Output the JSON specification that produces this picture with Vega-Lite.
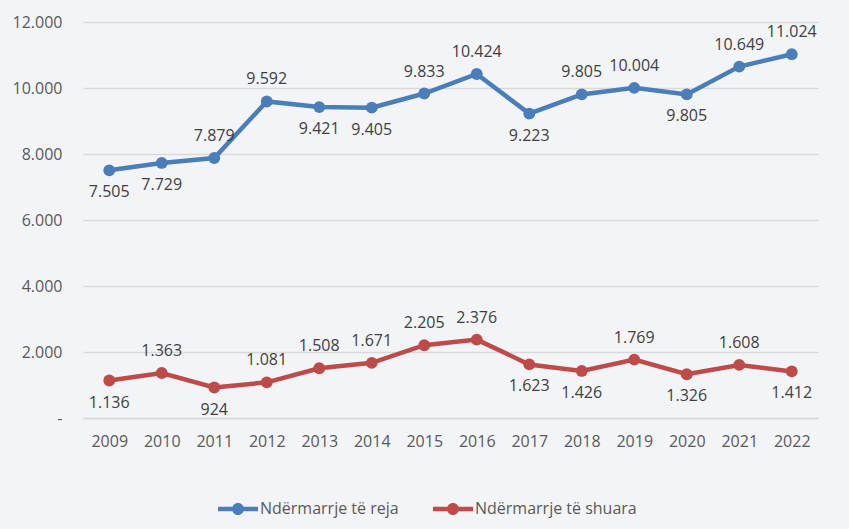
{
  "$schema": "https://vega.github.io/schema/vega-lite/v6.json",
  "width": 735,
  "height": 396,
  "autosize": {"type": "none"},
  "padding": {"left": 83, "top": 22, "right": 31, "bottom": 111},
  "background": "#f3f4f7",
  "config": {
    "locale": {"number": {"decimal": ",", "thousands": ".", "grouping": [3], "currency": ["", "€"]}},
    "view": {"stroke": null},
    "font": "Open Sans",
    "axis": {"labelFont": "Open Sans", "labelFontSize": 16, "labelColor": "#595959", "ticks": false, "domain": false, "gridColor": "#d9d9d9", "gridWidth": 1.3, "title": null}
  },
  "data": {
    "values": [
      {"year": "2009", "series": "Ndërmarrje të reja", "value": 7505},
      {"year": "2010", "series": "Ndërmarrje të reja", "value": 7729},
      {"year": "2011", "series": "Ndërmarrje të reja", "value": 7879},
      {"year": "2012", "series": "Ndërmarrje të reja", "value": 9592},
      {"year": "2013", "series": "Ndërmarrje të reja", "value": 9421},
      {"year": "2014", "series": "Ndërmarrje të reja", "value": 9405},
      {"year": "2015", "series": "Ndërmarrje të reja", "value": 9833},
      {"year": "2016", "series": "Ndërmarrje të reja", "value": 10424},
      {"year": "2017", "series": "Ndërmarrje të reja", "value": 9223},
      {"year": "2018", "series": "Ndërmarrje të reja", "value": 9805},
      {"year": "2019", "series": "Ndërmarrje të reja", "value": 10004},
      {"year": "2020", "series": "Ndërmarrje të reja", "value": 9805},
      {"year": "2021", "series": "Ndërmarrje të reja", "value": 10649},
      {"year": "2022", "series": "Ndërmarrje të reja", "value": 11024},
      {"year": "2009", "series": "Ndërmarrje të shuara", "value": 1136},
      {"year": "2010", "series": "Ndërmarrje të shuara", "value": 1363},
      {"year": "2011", "series": "Ndërmarrje të shuara", "value": 924},
      {"year": "2012", "series": "Ndërmarrje të shuara", "value": 1081},
      {"year": "2013", "series": "Ndërmarrje të shuara", "value": 1508},
      {"year": "2014", "series": "Ndërmarrje të shuara", "value": 1671},
      {"year": "2015", "series": "Ndërmarrje të shuara", "value": 2205},
      {"year": "2016", "series": "Ndërmarrje të shuara", "value": 2376},
      {"year": "2017", "series": "Ndërmarrje të shuara", "value": 1623},
      {"year": "2018", "series": "Ndërmarrje të shuara", "value": 1426},
      {"year": "2019", "series": "Ndërmarrje të shuara", "value": 1769},
      {"year": "2020", "series": "Ndërmarrje të shuara", "value": 1326},
      {"year": "2021", "series": "Ndërmarrje të shuara", "value": 1608},
      {"year": "2022", "series": "Ndërmarrje të shuara", "value": 1412}
    ]
  },
  "encoding": {
    "x": {"field": "year", "type": "ordinal", "scale": {"type": "point", "padding": 0.5},
      "axis": {"labelAngle": 0, "labelPadding": 15, "grid": false, "domain": true, "domainColor": "#d9d9d9", "domainWidth": 1.3}},
    "y": {"field": "value", "type": "quantitative", "scale": {"domain": [0, 12000], "nice": false},
      "axis": {"values": [0, 2000, 4000, 6000, 8000, 10000, 12000], "labelPadding": 21, "format": ",.0f",
        "labelExpr": "datum.value == 0 ? '-' : datum.label"}}
  },
  "layer": [
    {
      "mark": {"type": "line", "strokeWidth": 4.5, "point": {"size": 140, "filled": true, "opacity": 1}},
      "encoding": {
        "color": {"field": "series", "type": "nominal",
          "scale": {"domain": ["Ndërmarrje të reja", "Ndërmarrje të shuara"], "range": ["#4a7ebb", "#be4b48"]},
          "legend": {"title": null, "orient": "none", "legendX": 135, "legendY": 467, "direction": "horizontal",
            "symbolType": "M -1 -0.11 H 1 V 0.11 H -1 Z M 0.3 0 A 0.3 0.3 0 1 1 -0.3 0 A 0.3 0.3 0 1 1 0.3 0 Z",
            "symbolSize": 1600, "symbolStrokeWidth": 0, "symbolOpacity": 1, "labelLimit": 400,
            "labelFont": "Open Sans", "labelFontSize": 16, "labelColor": "#595959", "labelOffset": 2, "columnPadding": 34}}
      }
    },
    {
      "transform": [{"filter": "(datum.series == 'Ndërmarrje të reja' && indexof(['2009','2010','2013','2014','2017','2020'], datum.year) >= 0) || (datum.series == 'Ndërmarrje të shuara' && indexof(['2009','2011','2017','2018','2020','2022'], datum.year) >= 0)"}],
      "mark": {"type": "text", "dy": 22, "fontSize": 16, "color": "#404040", "font": "Open Sans"},
      "encoding": {"text": {"field": "value", "type": "quantitative", "format": ",.0f"}}
    },
    {
      "transform": [{"filter": "!((datum.series == 'Ndërmarrje të reja' && indexof(['2009','2010','2013','2014','2017','2020'], datum.year) >= 0) || (datum.series == 'Ndërmarrje të shuara' && indexof(['2009','2011','2017','2018','2020','2022'], datum.year) >= 0))"}],
      "mark": {"type": "text", "dy": -22, "fontSize": 16, "color": "#404040", "font": "Open Sans"},
      "encoding": {"text": {"field": "value", "type": "quantitative", "format": ",.0f"}}
    }
  ]
}
